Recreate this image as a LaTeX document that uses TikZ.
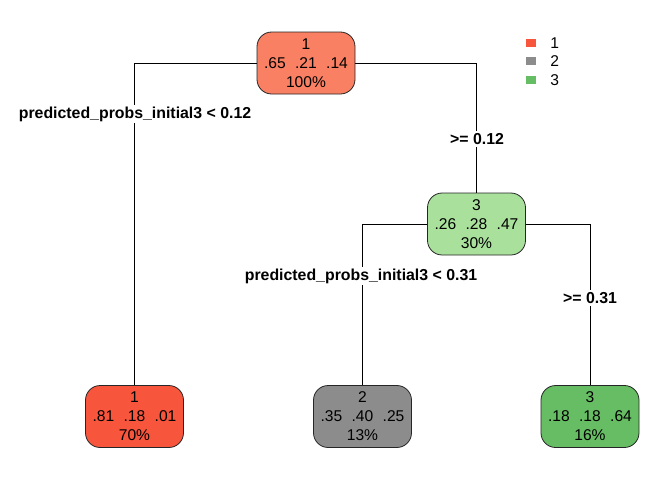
\documentclass[tikz,border=0pt]{standalone}
\usepackage{fontspec}
\setmainfont{Liberation Sans}
\definecolor{rootc}{HTML}{F98062}
\definecolor{redc}{HTML}{F8553D}
\definecolor{greyc}{HTML}{8C8C8C}
\definecolor{lgreen}{HTML}{A8E09C}
\definecolor{greenc}{HTML}{66BD63}
\begin{document}
\begin{tikzpicture}[x=0.75pt,y=-0.75pt,
  tnode/.style={draw=black!85, line width=0.6pt, rounded corners=11pt, minimum width=73.5pt, minimum height=46.5pt, align=center, inner sep=0pt, font=\fontsize{11.7pt}{14.2pt}\selectfont},
  split/.style={fill=white, inner sep=1.5pt, font=\fontsize{11.9pt}{14pt}\selectfont\bfseries},
  conn/.style={black, line width=0.6pt},
  legsq/.style={minimum width=7.5pt, minimum height=6.5pt, inner sep=0pt},
  legtx/.style={anchor=west, inner sep=0pt, font=\fontsize{11.7pt}{14pt}\selectfont}]
\useasboundingbox (0,0) rectangle (672,480);
\newcommand{\trip}[3]{#1\hspace{0.6em}#2\hspace{0.6em}#3}
\node[tnode, fill=rootc] (n1) at (306,63) {1\\\trip{.65}{.21}{.14}\\100\%};
\node[tnode, fill=lgreen] (n3) at (476.5,224) {3\\\trip{.26}{.28}{.47}\\30\%};
\node[tnode, fill=redc] (l1) at (134.5,416.5) {1\\\trip{.81}{.18}{.01}\\70\%};
\node[tnode, fill=greyc] (l2) at (362.5,416.5) {2\\\trip{.35}{.40}{.25}\\13\%};
\node[tnode, fill=greenc] (l3) at (590,416.5) {3\\\trip{.18}{.18}{.64}\\16\%};
\draw[conn] (n1.west) -| (l1.north);
\draw[conn] (n1.east) -| (n3.north);
\draw[conn] (n3.west) -| (l2.north);
\draw[conn] (n3.east) -| (l3.north);
\node[split] (s1) at (135,114) {predicted\_probs\_initial3 < 0.12};
\node[split] (s2) at (477,139) {>= 0.12};
\node[split] (s3) at (361,276) {predicted\_probs\_initial3 < 0.31};
\node[split] (s4) at (590,298) {>= 0.31};
\node[legsq, fill=redc] (k1) at (530.5,43) {};
\node[legsq, fill=greyc] (k2) at (530.5,61) {};
\node[legsq, fill=greenc] (k3) at (530.5,80) {};
\node[legtx] (t1) at (550,43) {1};
\node[legtx] (t2) at (550,61) {2};
\node[legtx] (t3) at (550,80) {3};
\end{tikzpicture}
\end{document}
